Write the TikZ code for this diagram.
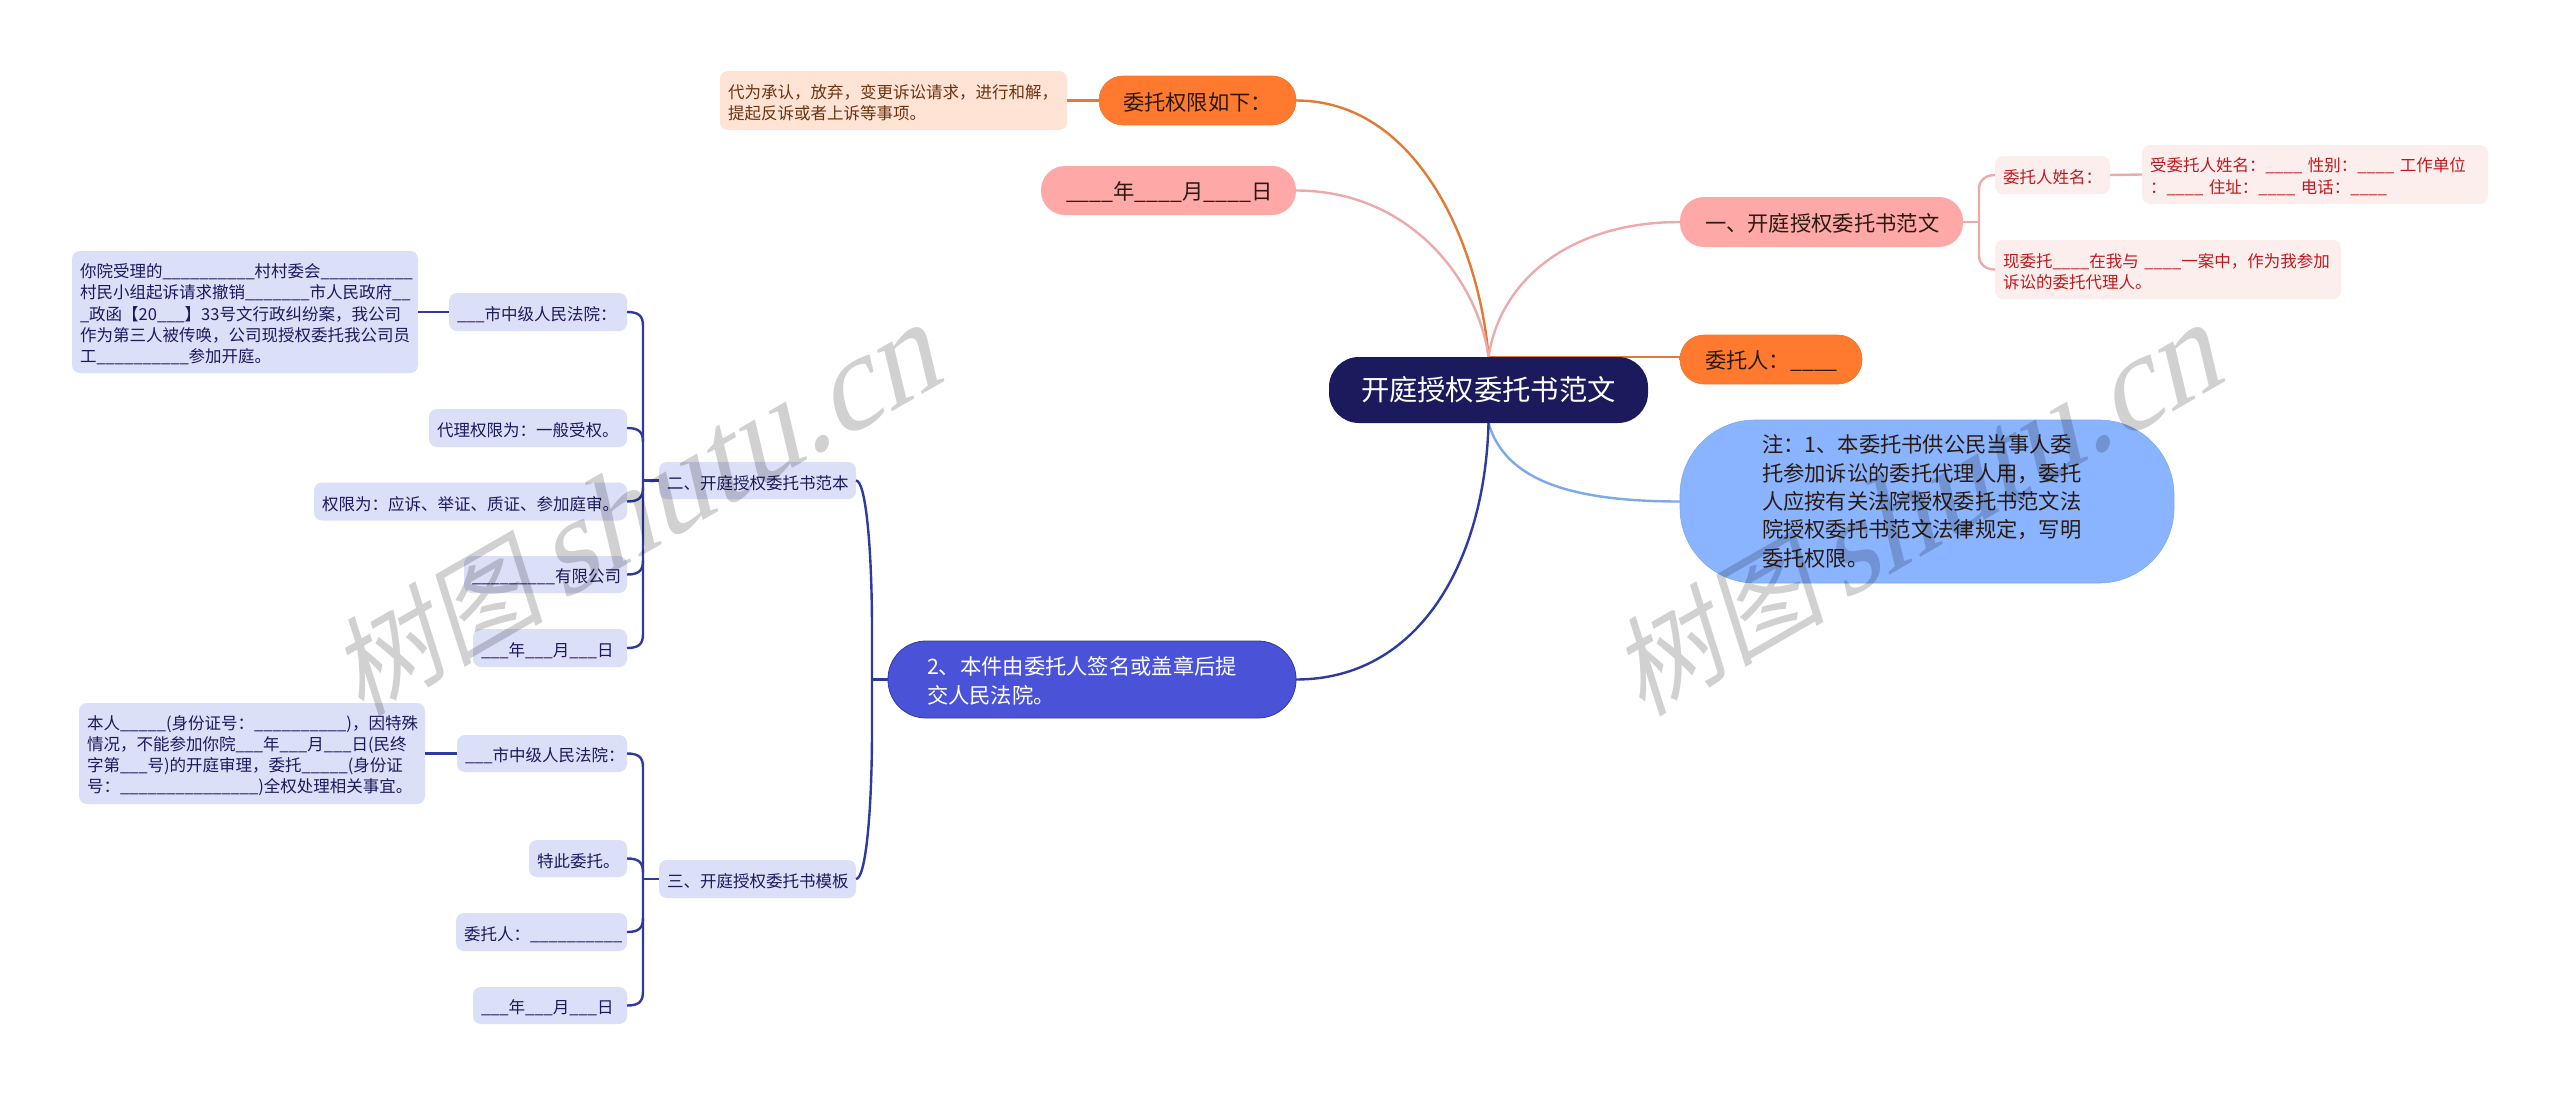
\documentclass[tikz,border=0pt]{standalone}
\usepackage{fontspec}
\setmainfont{Noto Sans CJK SC}
\newfontfamily\wmcjk[FakeSlant=0.22]{Noto Sans CJK SC}
\newfontfamily\wmlat[FakeSlant=0.3]{Liberation Serif}
\usetikzlibrary{calc}
\pgfdeclarelayer{back}
\pgfsetlayers{back,main}
\definecolor{lav}{HTML}{DCDFF8}
\definecolor{navy}{HTML}{1A1A5C}
\definecolor{indigo}{HTML}{4A52D8}
\definecolor{edgeblue}{HTML}{2F3A9E}
\definecolor{orng}{HTML}{FF7A2E}
\definecolor{edgeorng}{HTML}{E07A35}
\definecolor{pnk}{HTML}{FFA8A8}
\definecolor{edgepnk}{HTML}{EDAAAA}
\definecolor{peach}{HTML}{FFE3D5}
\definecolor{peachtxt}{HTML}{6B3410}
\definecolor{blush}{HTML}{FDEEEE}
\definecolor{redtxt}{HTML}{BE1A1E}
\definecolor{sky}{HTML}{8AB4FF}
\definecolor{edgesky}{HTML}{7CA9E8}
\definecolor{inktxt}{HTML}{2A1A10}
\tikzset{
  every node/.style={inner sep=0pt,outer sep=0pt,align=left,anchor=center},
  nudge/.style={execute at begin node={\rule{0pt}{#1}}},
  fs small/.style={font=\fontsize{16.5}{21.2}\selectfont,nudge=1.12em},
  fs mid/.style={font=\fontsize{21.3}{28.6}\selectfont,nudge=1.0em},
  leafbox/.style={fill=lav,text=navy,rounded corners=8pt,fs small},
  peachbox/.style={fill=peach,text=peachtxt,rounded corners=8pt,fs small},
  blushbox/.style={fill=blush,text=redtxt,rounded corners=8pt,fs small},
  rootbox/.style={fill=navy,text=white,rounded corners=30pt,font=\fontsize{28.3}{36}\selectfont},
  orangebox/.style={fill=orng,draw=edgeorng,line width=.6pt,text=inktxt,rounded corners=24pt,fs mid},
  pinkbox/.style={fill=pnk,text=inktxt,rounded corners=24pt,fs mid},
  indigobox/.style={fill=indigo,draw=edgeblue,line width=.8pt,text=white,rounded corners=38pt,font=\fontsize{21.3}{29.3}\selectfont,nudge=1.0em},
  skybox/.style={fill=sky,draw=edgesky,line width=.6pt,text=inktxt,rounded corners=75pt,font=\fontsize{21.3}{28.3}\selectfont},
  bluelink/.style={draw=edgeblue,line width=2.4pt},
  orangelink/.style={draw=edgeorng,line width=2.4pt},
  pinklink/.style={draw=edgepnk,line width=2.4pt},
  skylink/.style={draw=edgesky,line width=2.4pt},
  watermark/.style={text=black,text opacity=.18,rotate=30}
}
\begin{document}
\catcode`\_=12
\begin{tikzpicture}[x=1pt,y=-1pt]
\useasboundingbox (0,0) rectangle (2560,1095);
\begin{pgfonlayer}{back}
\fill[white] (0,0) rectangle (2560,1095);
\end{pgfonlayer}
% root and first level
\node[rootbox,minimum width=319pt,minimum height=66pt,text width=255pt] (root) at (1488.5,390) {开庭授权委托书范文};
\node[orangebox,minimum width=197pt,minimum height=49pt,text width=149pt] (limits) at (1197.5,100.5) {委托权限如下：};
\node[pinkbox,minimum width=255pt,minimum height=49pt,text width=205pt] (date) at (1168.5,190.5) {____年____月____日};
\node[pinkbox,minimum width=283pt,minimum height=50pt,text width=233pt] (one) at (1821.5,222) {一、开庭授权委托书范文};
\node[orangebox,minimum width=182pt,minimum height=49pt,text width=132pt] (client) at (1771,359.5) {委托人：____};
\node[skybox,minimum width=494pt,minimum height=163pt,text width=330pt] (note) at (1927,501.5) {注：1、本委托书供公民当事人委\\托参加诉讼的委托代理人用，委托\\人应按有关法院授权委托书范文法\\院授权委托书范文法律规定，写明\\委托权限。};
\node[indigobox,minimum width=408pt,minimum height=77pt,text width=330pt] (sign) at (1092,679.5) {2、本件由委托人签名或盖章后提\\交人民法院。};
% right details
\node[peachbox,minimum width=347pt,minimum height=59pt,text width=331pt] (scope) at (893.5,100.5) {代为承认，放弃，变更诉讼请求，进行和解，\\提起反诉或者上诉等事项。};
\node[blushbox,minimum width=115pt,minimum height=38pt,text width=99pt] (cname) at (2052.5,175) {委托人姓名：};
\node[blushbox,minimum width=346pt,minimum height=59pt,text width=330pt] (agent) at (2315,174.5) {受委托人姓名：____ 性别：____ 工作单位\\：____ 住址：____ 电话：____};
\node[blushbox,minimum width=346pt,minimum height=59pt,text width=330pt] (entrust) at (2168,269.5) {现委托____在我与 ____一案中，作为我参加\\诉讼的委托代理人。};
% second section
\node[leafbox,minimum width=197pt,minimum height=37pt,text width=181pt] (secB) at (757.5,480.5) {二、开庭授权委托书范本};
\node[leafbox,minimum width=178pt,minimum height=38pt,text width=162pt] (courtA) at (538,312) {___市中级人民法院：};
\node[leafbox,minimum width=346pt,minimum height=122pt,text width=330pt] (caseA) at (245,312) {你院受理的__________村村委会__________\\村民小组起诉请求撤销_______市人民政府__\\_政函【20___】33号文行政纠纷案，我公司\\作为第三人被传唤，公司现授权委托我公司员\\工__________参加开庭。};
\node[leafbox,minimum width=198pt,minimum height=38pt,text width=182pt] (powerA) at (528,428) {代理权限为：一般受权。};
\node[leafbox,minimum width=313pt,minimum height=38pt,text width=297pt] (powerB) at (470.5,501.5) {权限为：应诉、举证、质证、参加庭审。};
\node[leafbox,minimum width=163pt,minimum height=37pt,text width=147pt] (firm) at (545.5,574.5) {_________有限公司};
\node[leafbox,minimum width=154pt,minimum height=38pt,text width=138pt] (dateA) at (550,648) {___年___月___日};
% third section
\node[leafbox,minimum width=197pt,minimum height=38pt,text width=181pt] (secC) at (757.5,879) {三、开庭授权委托书模板};
\node[leafbox,minimum width=170pt,minimum height=37pt,text width=154pt] (courtB) at (542,753.5) {___市中级人民法院：};
\node[leafbox,minimum width=346pt,minimum height=101pt,text width=330pt] (caseB) at (252,753.5) {本人_____(身份证号：__________)，因特殊\\情况，不能参加你院___年___月___日(民终\\字第___号)的开庭审理，委托_____(身份证\\号：_______________)全权处理相关事宜。};
\node[leafbox,minimum width=98pt,minimum height=37pt,text width=82pt] (hereby) at (578,858.5) {特此委托。};
\node[leafbox,minimum width=171pt,minimum height=38pt,text width=155pt] (clientB) at (541.5,932) {委托人：__________};
\node[leafbox,minimum width=154pt,minimum height=37pt,text width=138pt] (dateB) at (550,1005.5) {___年___月___日};
% connectors from the root
\begin{pgfonlayer}{back}
\draw[orangelink] (root.north) .. controls (1480,250) and (1420,100.5) .. (limits.east);
\draw[pinklink] (root.north) .. controls (1478,280) and (1410,190.5) .. (date.east);
\draw[pinklink] (root.north) .. controls (1500,280) and (1570,222) .. (one.west);
\draw[orangelink] (root.north) -- (root.north -| client.west) -- (client.west);
\draw[skylink] (root.south) .. controls (1505,480) and (1570,501.5) .. (note.west);
\draw[bluelink] (root.south) .. controls (1485,560) and (1420,679.5) .. (sign.east);
\end{pgfonlayer}
% first section details
\coordinate (jOne) at ($(one.east)+(16,0)$);
\draw[pinklink] (one.east) -- (jOne);
\draw[pinklink] (cname.west) .. controls ($(cname.west)+(-10,0)$) and ($(jOne|-cname.west)+(0,6)$) .. ($(jOne|-cname.west)+(0,14)$) -- ($(jOne|-entrust.west)+(0,-14)$) .. controls ($(jOne|-entrust.west)+(0,-6)$) and ($(entrust.west)+(-10,0)$) .. (entrust.west);
\draw[pinklink] (cname.east) -- (agent.west);
\draw[orangelink] (limits.west) -- (scope.east);
% stems of the indigo branch
\coordinate (stem) at ($(sign.west)+(-16,0)$);
\draw[bluelink] (sign.west) -- (stem);
\draw[bluelink] (secB.east) .. controls ($(secB.east)+(10,0)$) and ($(stem|-secB.east)+(0,70)$) .. ($(stem|-secB.east)+(0,150)$) -- (stem) -- ($(stem|-secC.east)+(0,-150)$) .. controls ($(stem|-secC.east)+(0,-70)$) and ($(secC.east)+(10,0)$) .. (secC.east);
% second section brackets
\coordinate (jB) at ($(secB.west)+(-16,0)$);
\draw[bluelink] (secB.west) -- (jB);
\draw[bluelink] (courtA.east) .. controls ($(courtA.east)+(12,0)$) and ($(jB|-courtA.east)+(0,4)$) .. ($(jB|-courtA.east)+(0,14)$) -- ($(jB|-dateA.east)+(0,-14)$) .. controls ($(jB|-dateA.east)+(0,-4)$) and ($(dateA.east)+(12,0)$) .. (dateA.east);
\draw[bluelink] (powerA.east) .. controls ($(powerA.east)+(12,0)$) and ($(jB|-powerA.east)+(0,4)$) .. ($(jB|-powerA.east)+(0,14)$);
\draw[bluelink] (powerB.east) .. controls ($(powerB.east)+(12,0)$) and ($(jB|-powerB.east)+(0,-4)$) .. ($(jB|-powerB.east)+(0,-14)$);
\draw[bluelink] (firm.east) .. controls ($(firm.east)+(12,0)$) and ($(jB|-firm.east)+(0,-4)$) .. ($(jB|-firm.east)+(0,-14)$);
\draw[bluelink] (courtA.west) -- (caseA.east);
% third section brackets
\coordinate (jC) at ($(secC.west)+(-16,0)$);
\draw[bluelink] (secC.west) -- (jC);
\draw[bluelink] (courtB.east) .. controls ($(courtB.east)+(12,0)$) and ($(jC|-courtB.east)+(0,4)$) .. ($(jC|-courtB.east)+(0,14)$) -- ($(jC|-dateB.east)+(0,-14)$) .. controls ($(jC|-dateB.east)+(0,-4)$) and ($(dateB.east)+(12,0)$) .. (dateB.east);
\draw[bluelink] (hereby.east) .. controls ($(hereby.east)+(12,0)$) and ($(jC|-hereby.east)+(0,4)$) .. ($(jC|-hereby.east)+(0,14)$);
\draw[bluelink] (clientB.east) .. controls ($(clientB.east)+(12,0)$) and ($(jC|-clientB.east)+(0,-4)$) .. ($(jC|-clientB.east)+(0,-14)$);
\draw[bluelink] (courtB.west) -- (caseB.east);
% watermarks
\node[watermark,font=\fontsize{132}{132}\selectfont] (markA) at (633,513) {{\wmcjk\fontsize{108}{108}\selectfont 树图}\hspace{16pt}{\wmlat shutu.cn}};
\node[watermark,font=\fontsize{132}{132}\selectfont] (markB) at (1914,513) {{\wmcjk\fontsize{108}{108}\selectfont 树图}\hspace{16pt}{\wmlat shutu.cn}};
\end{tikzpicture}
\end{document}
